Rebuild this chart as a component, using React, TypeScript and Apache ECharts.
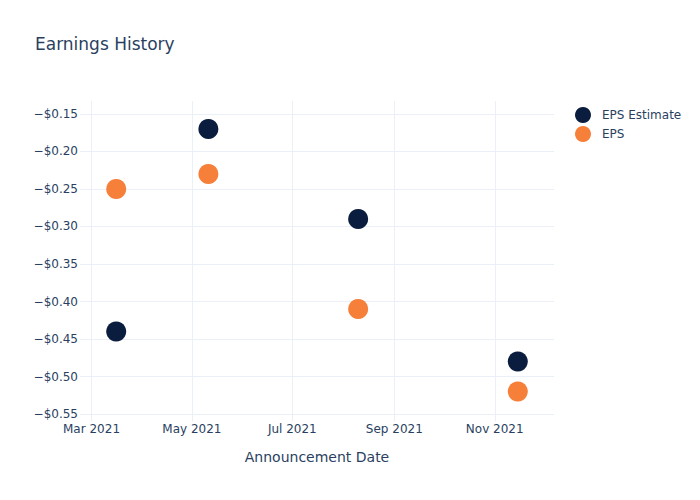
import React, { useEffect, useRef } from "react";
import * as echarts from "echarts";

const dates = ["2021-03-16", "2021-05-11", "2021-08-10", "2021-11-15"];
const epsEstimate = [-0.44, -0.17, -0.29, -0.48];
const epsActual = [-0.25, -0.23, -0.41, -0.52];
const monthNames = ["Jan", "Feb", "Mar", "Apr", "May", "Jun", "Jul", "Aug", "Sep", "Oct", "Nov", "Dec"];

const FONT = "DejaVu Sans";
const TXT = "#2a3f5f";
const GRID = "#ebf0f8";

export default function App() {
  const ref = useRef<HTMLDivElement>(null);
  useEffect(() => {
    if (!ref.current) return;
    const chart = echarts.init(ref.current, undefined, { renderer: "svg" });
    const toPts = (vals: number[]) => dates.map((d, i) => [d, vals[i]]);
    chart.setOption({
      animation: false,
      textStyle: { fontFamily: FONT, color: TXT },
      title: {
        text: "Earnings History",
        left: 35,
        top: 35,
        padding: 0,
        textStyle: { fontFamily: FONT, fontSize: 17, fontWeight: "normal", color: TXT },
      },
      legend: {
        orient: "vertical",
        left: 575,
        top: 107,
        itemWidth: 16,
        itemHeight: 16,
        itemGap: 3,
        icon: "circle",
        padding: 0,
        textStyle: { fontFamily: FONT, fontSize: 12, color: TXT, padding: [0, 0, 0, 6] },
        data: ["EPS Estimate", "EPS"],
      },
      grid: { left: 80, right: 146, top: 101, bottom: 79 },
      xAxis: {
        type: "time",
        min: "2021-02-22",
        max: "2021-12-07",
        splitNumber: 4,
        name: "Announcement Date",
        nameLocation: "middle",
        nameGap: 29,
        nameTextStyle: { fontFamily: FONT, fontSize: 14, color: TXT },
        axisLine: { show: false },
        axisTick: { show: false },
        axisLabel: {
          fontFamily: FONT,
          fontSize: 12,
          color: TXT,
          margin: 2,
          showMinLabel: false,
          showMaxLabel: false,
          formatter: (v: number) => {
            const d = new Date(v);
            return monthNames[d.getMonth()] + " " + d.getFullYear();
          },
        },
        splitLine: { show: true, showMinLine: false, showMaxLine: false, lineStyle: { color: GRID, width: 1 } },
      },
      yAxis: {
        type: "value",
        min: -0.5593,
        max: -0.1327,
        splitNumber: 8,
        axisLine: { show: false },
        axisTick: { show: false },
        axisLabel: {
          fontFamily: FONT,
          fontSize: 12,
          color: TXT,
          margin: 2,
          showMinLabel: false,
          showMaxLabel: false,
          formatter: (v: number) => (v < 0 ? "\u2212" : "") + "$" + Math.abs(v).toFixed(2),
        },
        splitLine: { show: true, showMinLine: false, showMaxLine: false, lineStyle: { color: GRID, width: 1 } },
      },
      series: [
        {
          name: "EPS Estimate",
          type: "scatter",
          symbol: "circle",
          symbolSize: 20,
          itemStyle: { color: "#0b1d3f", opacity: 1 },
          data: toPts(epsEstimate),
        },
        {
          name: "EPS",
          type: "scatter",
          symbol: "circle",
          symbolSize: 20,
          itemStyle: { color: "#f6803a", opacity: 1 },
          data: toPts(epsActual),
        },
      ],
    });
    return () => chart.dispose();
  }, []);
  return <div ref={ref} style={{ width: 700, height: 500, margin: -8 }} />;
}
